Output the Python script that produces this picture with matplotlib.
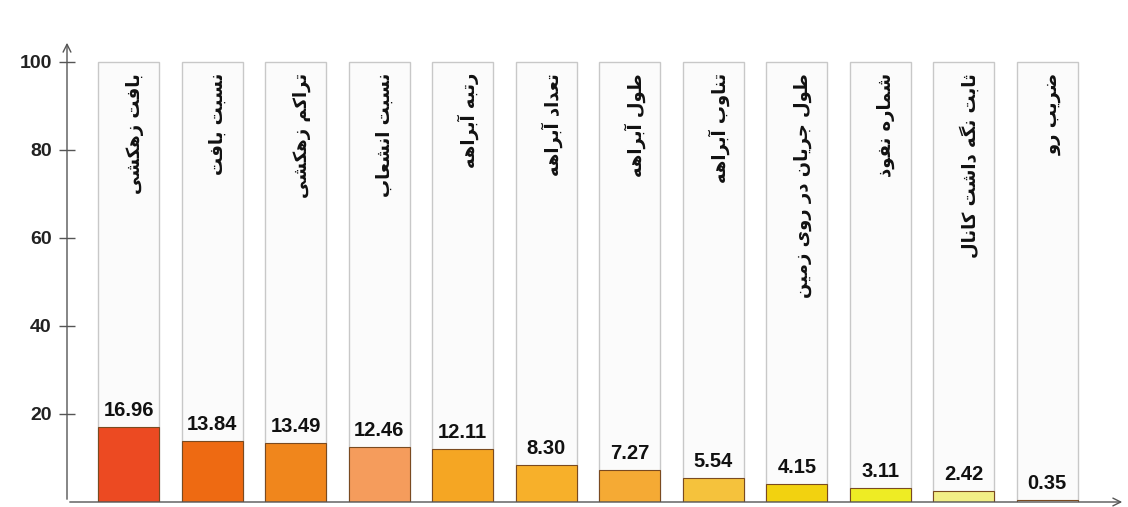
import matplotlib
matplotlib.use("Agg")
import matplotlib.pyplot as plt
from matplotlib.patches import FancyArrowPatch

# data
labels = ["بافت زهکشی", "نسبت بافت", "تراکم زهکشی", "نسبت انشعاب", "رتبه آبراهه",
          "تعداد آبراهه", "طول آبراهه", "تناوب آبراهه", "طول جریان در روی زمین",
          "شماره نفوذ", "ثابت نگه داشت کانال", "ضریب رو"]
values = [16.96, 13.84, 13.49, 12.46, 12.11, 8.30, 7.27, 5.54, 4.15, 3.11, 2.42, 0.35]
colors = ["#EC4A22", "#EE6A12", "#F0861C", "#F59C5C", "#F5A623", "#F7B02A",
          "#F5AA34", "#F5C23C", "#F2D210", "#EEEC24", "#F2EE86", "#FAFAFA"]
yticks = [20, 40, 60, 80, 100]

# simple Persian shaping (matplotlib has no bidi / joining)
FORMS = {
    'ا': ('\uFE8D', '\uFE8E', None, None),
    'آ': ('\uFE81', '\uFE82', None, None),
    'ب': ('\uFE8F', '\uFE90', '\uFE91', '\uFE92'),
    'ت': ('\uFE95', '\uFE96', '\uFE97', '\uFE98'),
    'ث': ('\uFE99', '\uFE9A', '\uFE9B', '\uFE9C'),
    'ج': ('\uFE9D', '\uFE9E', '\uFE9F', '\uFEA0'),
    'د': ('\uFEA9', '\uFEAA', None, None),
    'ذ': ('\uFEAB', '\uFEAC', None, None),
    'ر': ('\uFEAD', '\uFEAE', None, None),
    'ز': ('\uFEAF', '\uFEB0', None, None),
    'س': ('\uFEB1', '\uFEB2', '\uFEB3', '\uFEB4'),
    'ش': ('\uFEB5', '\uFEB6', '\uFEB7', '\uFEB8'),
    'ض': ('\uFEBD', '\uFEBE', '\uFEBF', '\uFEC0'),
    'ط': ('\uFEC1', '\uFEC2', '\uFEC3', '\uFEC4'),
    'ع': ('\uFEC9', '\uFECA', '\uFECB', '\uFECC'),
    'ف': ('\uFED1', '\uFED2', '\uFED3', '\uFED4'),
    'ق': ('\uFED5', '\uFED6', '\uFED7', '\uFED8'),
    'ک': ('\uFB8E', '\uFB8F', '\uFB90', '\uFB91'),
    'گ': ('\uFB92', '\uFB93', '\uFB94', '\uFB95'),
    'ل': ('\uFEDD', '\uFEDE', '\uFEDF', '\uFEE0'),
    'م': ('\uFEE1', '\uFEE2', '\uFEE3', '\uFEE4'),
    'ن': ('\uFEE5', '\uFEE6', '\uFEE7', '\uFEE8'),
    'ه': ('\uFEE9', '\uFEEA', '\uFEEB', '\uFEEC'),
    'و': ('\uFEED', '\uFEEE', None, None),
    'ی': ('\uFBFC', '\uFBFD', '\uFBFE', '\uFBFF'),
}


def shape(s):
    out = []
    for i, ch in enumerate(s):
        if ch not in FORMS:
            out.append(ch)
            continue
        prev = s[i - 1] if i > 0 else None
        nxt = s[i + 1] if i < len(s) - 1 else None
        jp = prev in FORMS and FORMS[prev][2] is not None
        jn = FORMS[ch][2] is not None and nxt in FORMS
        iso, fin, ini, med = FORMS[ch]
        if jp and jn:
            out.append(med)
        elif jp:
            out.append(fin)
        elif jn:
            out.append(ini)
        else:
            out.append(iso)
    return "".join(out)[::-1]


fig = plt.figure(figsize=(11.28, 5.07), dpi=100)
ax = fig.add_axes([67 / 1128, 5 / 507, (1125 - 67) / 1128, (502 - 40) / 507])

x = list(range(len(values)))
w = 0.73

# white background columns up to 100
ax.bar(x, [100] * len(x), width=w, color="#FBFBFB", edgecolor="#C8C8C8", linewidth=1.0, zorder=1)
# coloured bars
ax.bar(x, values, width=w, color=colors, edgecolor="#7A4A20", linewidth=0.8, zorder=2)

for xi, v, lab in zip(x, values, labels):
    ax.text(xi, v + 1.6, f"{v:.2f}", ha="center", va="bottom", fontsize=14.5,
            fontweight="bold", family="Liberation Sans", color="#111111", zorder=3)
    ax.text(xi + 0.07, 97.5, shape(lab), rotation=90, ha="center", va="top", fontsize=13,
            fontweight="bold", family="DejaVu Sans", color="#111111", zorder=3)

ax.set_xlim(-0.74, 11.93)
ax.set_ylim(0, 105)
ax.set_xticks([])
ax.set_yticks(yticks)
ax.set_yticklabels([str(t) for t in yticks], fontsize=14, fontweight="bold",
                   family="Liberation Sans", color="#222222")
ax.tick_params(axis="y", direction="inout", length=12, width=1, color="#555555", pad=5)
for sp in ax.spines.values():
    sp.set_visible(False)

# axes with arrow heads
ax.add_patch(FancyArrowPatch((0, 0), (0, 1.0), transform=ax.transAxes, arrowstyle="->",
                             mutation_scale=14, color="#555555", lw=1, clip_on=False, zorder=4))
ax.add_patch(FancyArrowPatch((0, 0), (1.0, 0), transform=ax.transAxes, arrowstyle="->",
                             mutation_scale=14, color="#555555", lw=1, clip_on=False, zorder=4))

fig.savefig("out.png", dpi=100)
